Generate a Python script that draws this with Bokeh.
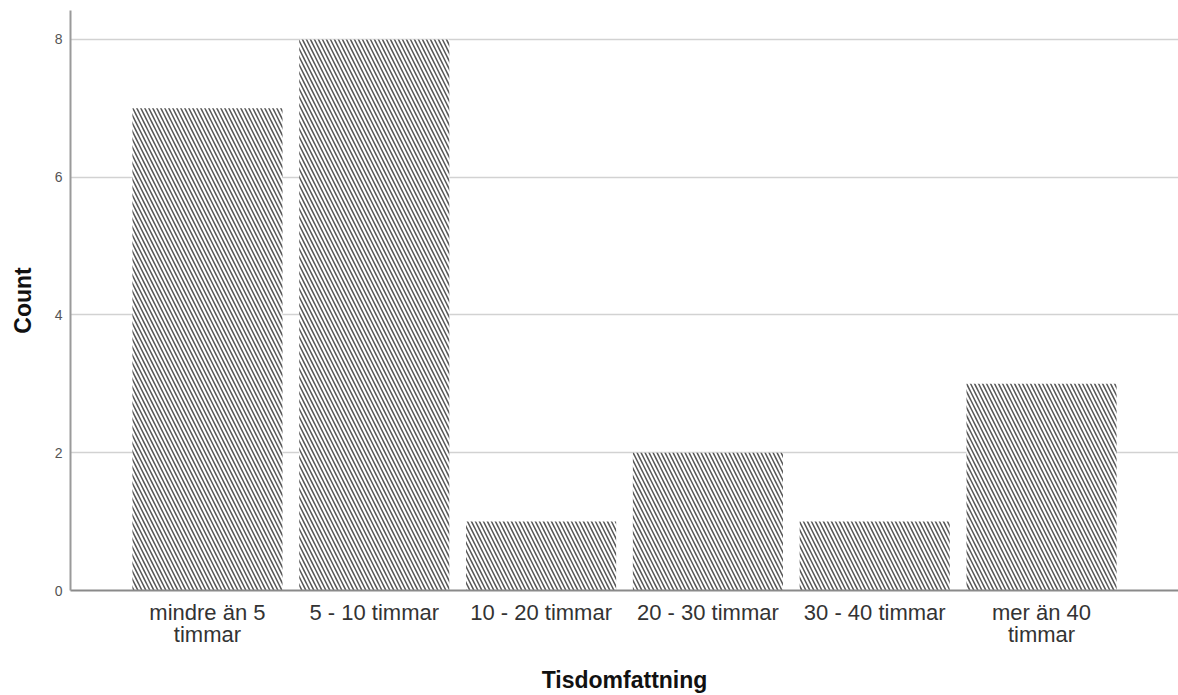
from bokeh.plotting import figure
from bokeh.models import FactorRange, Range1d, FixedTicker, ColumnDataSource
from bokeh.embed import file_html
from bokeh.resources import INLINE

categories = ["mindre än 5\ntimmar", "5 - 10 timmar", "10 - 20 timmar",
              "20 - 30 timmar", "30 - 40 timmar", "mer än 40\ntimmar"]
counts = [7, 8, 1, 2, 1, 3]
y_ticks = [0, 2, 4, 6, 8]

src = ColumnDataSource(dict(cat=categories, top=counts))

p = figure(width=1178, height=695, output_backend="svg", toolbar_location=None,
           x_range=FactorRange(factors=categories, range_padding=0.107),
           y_range=Range1d(0, 8.42),
           min_border_left=70, min_border_right=0, min_border_top=10, min_border_bottom=105)
p.outline_line_color = None
p.background_fill_color = "white"

p.vbar(x="cat", top="top", width=0.9, bottom=0, source=src,
       fill_color="white", line_color=None,
       hatch_pattern="\\", hatch_color="#555555", hatch_scale=8, hatch_weight=1.5)

# grid
p.xgrid.grid_line_color = None
p.ygrid.grid_line_color = "#d2d2d2"
p.ygrid.grid_line_width = 1.5
p.ygrid.ticker = FixedTicker(ticks=y_ticks[1:])

# y axis
p.yaxis.ticker = FixedTicker(ticks=y_ticks)
p.yaxis.axis_label = "Count"
p.yaxis.axis_label_text_font = "Liberation Sans"
p.yaxis.axis_label_text_font_style = "bold"
p.yaxis.axis_label_text_font_size = "23px"
p.yaxis.axis_label_text_color = "#111111"
p.yaxis.axis_label_standoff = 16
p.yaxis.major_label_text_font = "Liberation Sans"
p.yaxis.major_label_text_font_size = "14px"
p.yaxis.major_label_text_color = "#555555"
p.yaxis.major_label_standoff = 8
p.yaxis.major_tick_out = 0
p.yaxis.major_tick_in = 0
p.yaxis.minor_tick_out = 0
p.yaxis.minor_tick_in = 0
p.yaxis.axis_line_color = "#9a9a9a"
p.yaxis.axis_line_width = 2

# x axis
p.xaxis.axis_label = "Tisdomfattning"
p.xaxis.axis_label_text_font = "Liberation Sans"
p.xaxis.axis_label_text_font_style = "bold"
p.xaxis.axis_label_text_font_size = "23px"
p.xaxis.axis_label_text_color = "#111111"
p.xaxis.axis_label_standoff = 17
p.xaxis.major_label_text_font = "Liberation Sans"
p.xaxis.major_label_text_font_size = "22px"
p.xaxis.major_label_text_line_height = 0.88
p.xaxis.major_label_text_color = "#333333"
p.xaxis.major_label_standoff = 9
p.xaxis.major_tick_out = 0
p.xaxis.major_tick_in = 0
p.xaxis.minor_tick_out = 0
p.xaxis.minor_tick_in = 0
p.xaxis.axis_line_color = "#8a8a8a"
p.xaxis.axis_line_width = 2

open("out.html", "w").write(file_html(p, INLINE))
